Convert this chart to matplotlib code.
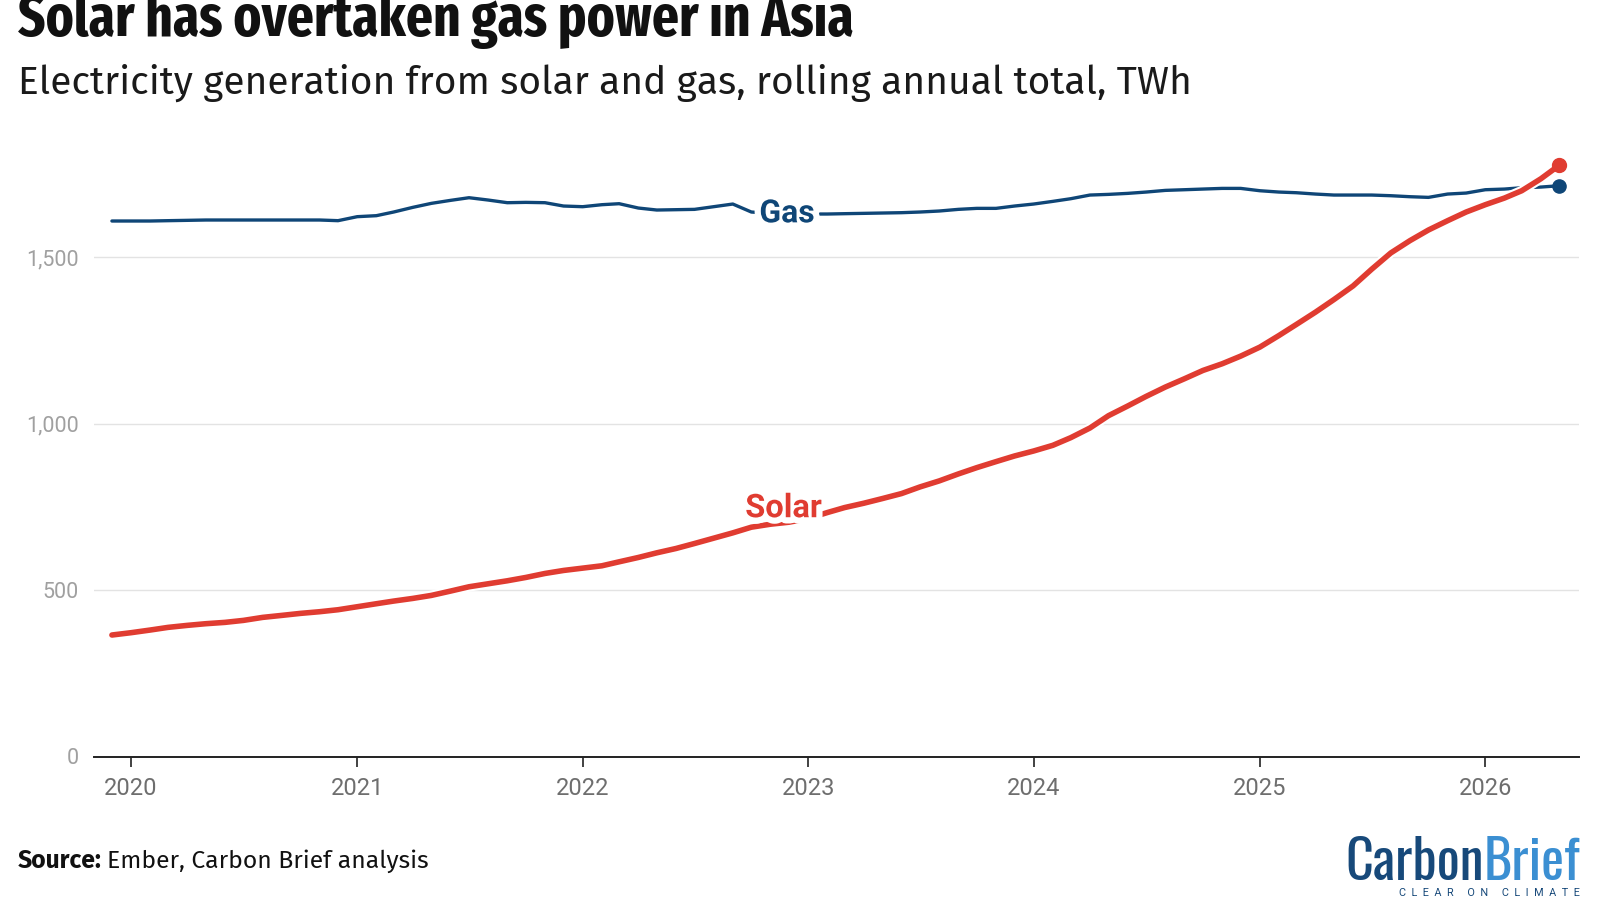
import matplotlib
matplotlib.use('Agg')
import matplotlib.pyplot as plt
import matplotlib.dates as mdates
import matplotlib.patheffects as pe
from matplotlib import font_manager as fm
import pandas as pd

# ---------------- data ----------------
months = pd.date_range('2019-12-01', '2026-05-01', freq='MS')

gas = [1609, 1609, 1609, 1610, 1611, 1612, 1612, 1612, 1612, 1612, 1612, 1612,
       1610, 1622, 1625, 1636, 1650, 1662, 1671, 1679, 1672, 1664, 1665, 1664,
       1654, 1652, 1658, 1661, 1648, 1642, 1643, 1644, 1652, 1660, 1636, 1632,
       1630, 1630, 1630, 1631, 1632, 1633, 1634, 1636, 1639, 1644, 1647, 1647,
       1654, 1660, 1668, 1676, 1687, 1689, 1692, 1696, 1701, 1703, 1705, 1707,
       1707, 1700, 1696, 1694, 1690, 1687, 1687, 1687, 1685, 1682, 1680, 1690,
       1693, 1703, 1705, 1709, 1711, 1715]

solar = [365, 372, 380, 388, 394, 399, 403, 409, 418, 424, 430, 435,
         441, 450, 459, 467, 475, 484, 497, 510, 519, 528, 538, 550,
         559, 566, 573, 585, 598, 612, 625, 640, 656, 672, 689, 698,
         704, 715, 733, 748, 761, 775, 790, 810, 828, 849, 868, 886,
         903, 918, 935, 958, 987, 1024, 1053, 1082, 1110, 1135, 1160, 1180,
         1203, 1230, 1265, 1298, 1335, 1373, 1414, 1464, 1513, 1550, 1582, 1610,
         1636, 1658, 1678, 1700, 1736, 1777]

tick_years = [2020, 2021, 2022, 2023, 2024, 2025, 2026]
y_ticks = [0, 500, 1000, 1500]
y_tick_labels = ['0', '500', '1,000', '1,500']

title = 'Solar has overtaken gas power in Asia'
subtitle = 'Electricity generation from solar and gas, rolling annual total, TWh'

# ---------------- fonts ----------------
names = {f.name for f in fm.fontManager.ttflist}

def pick(*cands):
    for c in cands:
        if c in names:
            return c
    return 'DejaVu Sans'

TITLE_F = pick('Fira Sans Extra Condensed', 'Fira Sans Condensed', 'Roboto Condensed')
SUB_F = pick('Fira Sans', 'Roboto')
LOGO_F = pick('Oswald', 'Bebas Neue', 'Barlow Condensed', 'Roboto Condensed')
ROBOTO = pick('Roboto', 'DejaVu Sans')

GAS_C = '#0f4677'
SOLAR_C = '#e03c31'

fig = plt.figure(figsize=(16, 9), dpi=100)
ax = fig.add_axes([94 / 1600, 143.5 / 900, (1578.6 - 94) / 1600, (756.5 - 140.8) / 900])

x = mdates.date2num(months)
ax.plot(x, gas, color=GAS_C, lw=2.4, solid_capstyle='round', solid_joinstyle='round', zorder=3)
ax.plot(x, solar, color=SOLAR_C, lw=4.0, solid_capstyle='round', solid_joinstyle='round', zorder=4,
        path_effects=[pe.Stroke(linewidth=7, foreground='white'), pe.Normal()])
ax.plot([x[-1]], [gas[-1]], 'o', color=GAS_C, ms=9.5, zorder=5)
ax.plot([x[-1]], [solar[-1]], 'o', color=SOLAR_C, ms=10, zorder=6)

ax.set_ylim(0, 1850)
ax.set_xlim(mdates.date2num(pd.Timestamp('2019-11-02')), mdates.date2num(pd.Timestamp('2026-06-01')))

ax.set_yticks(y_ticks)
ax.set_yticklabels(y_tick_labels)
xt = [mdates.date2num(pd.Timestamp(f'{y}-01-01')) for y in tick_years]
ax.set_xticks(xt)
ax.set_xticklabels([str(y) for y in tick_years])

for s in ['top', 'right', 'left']:
    ax.spines[s].set_visible(False)
ax.spines['bottom'].set_color('#222222')
ax.spines['bottom'].set_linewidth(1.4)
ax.spines['bottom'].set_zorder(7)

ax.grid(axis='y', color='#e3e3e3', lw=1.0, zorder=0)
ax.set_axisbelow(True)
ax.tick_params(axis='y', length=0, pad=11, labelsize=15.5, labelcolor='#a0a0a0')
ax.tick_params(axis='x', length=7, width=1.2, color='#222222', pad=8, labelsize=17,
               labelcolor='#6e6e6e')
for lab in ax.get_yticklabels() + ax.get_xticklabels():
    lab.set_fontfamily(ROBOTO)

# series labels
halo = [pe.withStroke(linewidth=9, foreground='white')]
ax.text(mdates.date2num(pd.Timestamp('2022-11-28')), 1632, 'Gas', color=GAS_C,
        fontsize=23, fontweight='bold', family=ROBOTO, ha='center', va='center',
        zorder=8, path_effects=halo)
ax.text(mdates.date2num(pd.Timestamp('2022-11-22')), 746, 'Solar', color=SOLAR_C,
        fontsize=23.5, fontweight='bold', family=ROBOTO, ha='center', va='center',
        zorder=8, path_effects=halo)

# titles
fig.text(18 / 1600, 1 - 36 / 900, title, fontsize=41.5, fontweight='bold',
         family=[TITLE_F, 'DejaVu Sans'], color='#111111', va='baseline', ha='left')
fig.text(18 / 1600, 1 - 94 / 900, subtitle, fontsize=28,
         family=[SUB_F, 'DejaVu Sans'], color='#1a1a1a', va='baseline', ha='left')

# source
t1 = fig.text(18 / 1600, 1 - 868 / 900, 'Source:', fontsize=17.8, fontweight='bold',
              family=[SUB_F, 'DejaVu Sans'], color='#111111', va='baseline', ha='left')
fig.canvas.draw()
bb = t1.get_window_extent()
fig.text(bb.x1 / 1600 + 5 / 1600, 1 - 868 / 900, 'Ember, Carbon Brief analysis', fontsize=17.8,
         family=[SUB_F, 'DejaVu Sans'], color='#111111', va='baseline', ha='left')

# logo
tb = fig.text(1580 / 1600, 1 - 880 / 900, 'Brief', fontsize=39, fontweight='bold',
              family=[LOGO_F, 'DejaVu Sans'], color='#3b8fd2', va='baseline', ha='right')
fig.canvas.draw()
bb2 = tb.get_window_extent()
fig.text(bb2.x0 / 1600, 1 - 880 / 900, 'Carbon', fontsize=39, fontweight='bold',
         family=[LOGO_F, 'DejaVu Sans'], color='#17497a', va='baseline', ha='right')
fig.text(1580 / 1600, 1 - 896 / 900, 'C  L  E  A  R     O  N     C  L  I  M  A  T  E', fontsize=7.8,
         family=[ROBOTO, 'DejaVu Sans'], color='#17497a', va='baseline', ha='right')

fig.savefig('out.png', dpi=100)
